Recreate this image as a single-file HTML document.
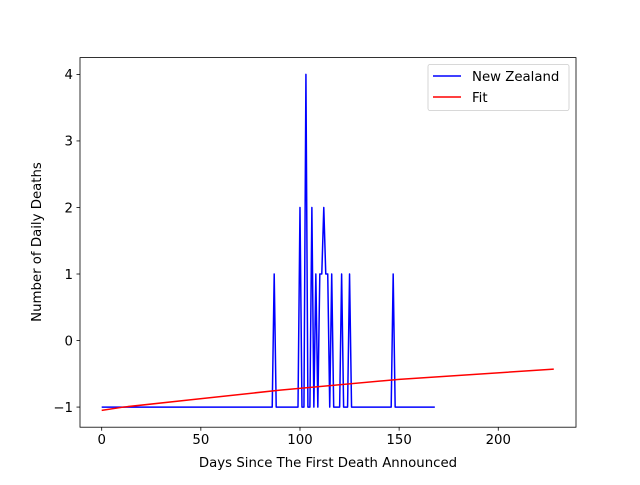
<!DOCTYPE html>
<html><head><meta charset="utf-8"><style>
body{margin:0;background:#fff;}
svg text{font-family:"DejaVu Sans","Liberation Sans",sans-serif;font-size:13.3px;fill:#000;}
</style></head><body>
<svg id="chart" width="640" height="480" xmlns="http://www.w3.org/2000/svg">
<rect x="0" y="0" width="640" height="480" fill="#fff"/>
<g id="plot"></g>
</svg>
<script>
const blueStartDay = 0;
const blueValues = [
-1,-1,-1,-1,-1,-1,-1,-1,-1,-1,-1,-1,-1,-1,-1,-1,-1,-1,-1,-1,
-1,-1,-1,-1,-1,-1,-1,-1,-1,-1,-1,-1,-1,-1,-1,-1,-1,-1,-1,-1,
-1,-1,-1,-1,-1,-1,-1,-1,-1,-1,-1,-1,-1,-1,-1,-1,-1,-1,-1,-1,
-1,-1,-1,-1,-1,-1,-1,-1,-1,-1,-1,-1,-1,-1,-1,-1,-1,-1,-1,-1,
-1,-1,-1,-1,-1,-1,-1,
1,
-1,-1,-1,-1,-1,-1,-1,-1,-1,-1,-1,-1,
2,-1,-1,4,-1,-1,2,-1,1,-1,1,1,2,1,1,-1,1,-1,-1,-1,-1,1,-1,-1,-1,1,
-1,-1,-1,-1,-1,-1,-1,-1,-1,-1,-1,-1,-1,-1,-1,-1,-1,-1,-1,-1,-1,
1,
-1,-1,-1,-1,-1,-1,-1,-1,-1,-1,-1,-1,-1,-1,-1,-1,-1,-1,-1,-1,-1
];
const fitDays = [0, 11, 45, 90, 150, 228];
const fitValues = [-1.05, -1.0, -0.89, -0.745, -0.584, -0.43];
const xTicks = [0, 50, 100, 150, 200];
const yTicks = [-1, 0, 1, 2, 3, 4];

const L=80,R=576,T=57.6,B=427.2;
const xMin=-10.94,xMax=239.2,yMin=-1.3025,yMax=4.2525;
const X=v=>L+(v-xMin)/(xMax-xMin)*(R-L);
const Y=v=>B-(v-yMin)/(yMax-yMin)*(B-T);
const NS="http://www.w3.org/2000/svg";
const g=document.getElementById('plot');
function mk(tag,attrs){const e=document.createElementNS(NS,tag);for(const k in attrs)e.setAttribute(k,attrs[k]);g.appendChild(e);return e;}

let pts=blueValues.map((v,i)=>X(blueStartDay+i).toFixed(2)+','+Y(v).toFixed(2)).join(' ');
const bl=mk('polyline',{points:pts,fill:'none',stroke:'#0000ff','stroke-width':1.5,'stroke-linejoin':'round'});


pts=fitDays.map((d,i)=>X(d).toFixed(2)+','+Y(fitValues[i]).toFixed(2)).join(' ');
const rl=mk('polyline',{points:pts,fill:'none',stroke:'#ff0000','stroke-width':1.5,'stroke-linejoin':'round'});



const fr=mk('rect',{x:L,y:T,width:R-L,height:B-T,fill:'none',stroke:'#000','stroke-width':0.8});



xTicks.forEach(t=>{
  const x=X(t);
  const tk=mk('line',{x1:x,x2:x,y1:B,y2:B+3.5,stroke:'#000','stroke-width':0.8});
  
  
  const tx=mk('text',{x:x,y:B+17,'text-anchor':'middle'});tx.textContent=t;
  
  
});
yTicks.forEach(t=>{
  const y=Y(t);
  const tk=mk('line',{x1:L-3.5,x2:L,y1:y,y2:y,stroke:'#000','stroke-width':0.8});
  
  
  const tx=mk('text',{x:L-7,y:y+4.8,'text-anchor':'end'});tx.textContent=t<0?'\u2212'+(-t):t;
  
  
});
let t=mk('text',{x:(L+R)/2,y:467,'text-anchor':'middle'});t.textContent='Days Since The First Death Announced';


t=mk('text',{x:0,y:0,'text-anchor':'middle',transform:'translate(41,242) rotate(-90)'});t.textContent='Number of Daily Deaths';



const lg=mk('rect',{x:428,y:64.5,width:141,height:46,rx:2,fill:'#fff','fill-opacity':0.8,stroke:'#ccc','stroke-width':0.8});


[['New Zealand','#0000ff',76],['Fit','#ff0000',97]].forEach(([n,c,y])=>{
  const l=mk('line',{x1:433,x2:461,y1:y,y2:y,stroke:c,'stroke-width':1.5});
  
  
  const tx=mk('text',{x:472,y:y+4.8});tx.textContent=n;
  
  
});
</script>
</body></html>
